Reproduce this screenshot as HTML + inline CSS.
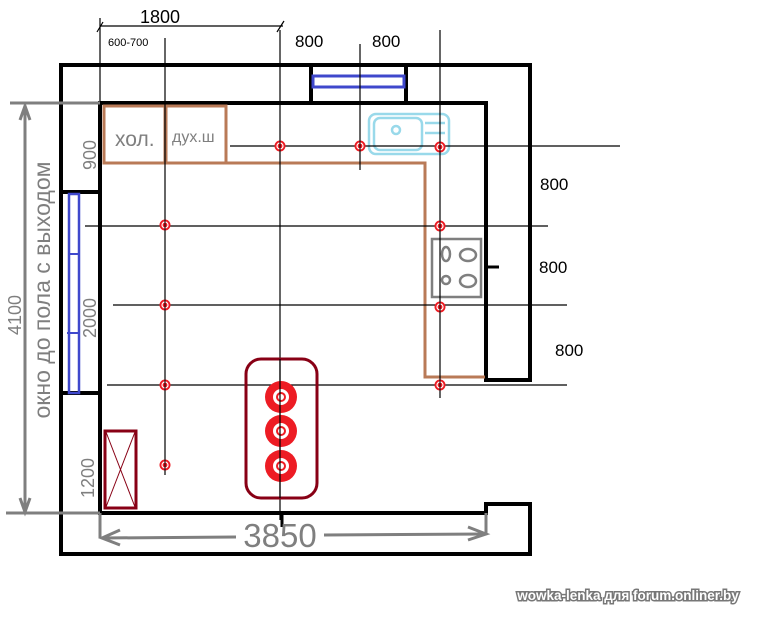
<!DOCTYPE html>
<html><head><meta charset="utf-8"><style>
html,body{margin:0;padding:0;background:#fff;}
svg{display:block;}
</style></head><body>
<svg width="769" height="617" viewBox="0 0 769 617" xmlns="http://www.w3.org/2000/svg" font-family="Liberation Sans, DejaVu Sans, sans-serif">
<rect width="769" height="617" fill="#fff"/>
<g stroke="#000" stroke-width="4" fill="none">
<polyline points="311,65 61,65 61,554 530,554 530,504 486,504 486,513 100,513 100,103 486,103 486,380 530,380 530,65 406,65"/>
<rect x="311" y="65" width="95" height="38"/>
<line x1="61" y1="192" x2="100" y2="192"/>
<line x1="61" y1="393" x2="100" y2="393"/>
</g>
<rect x="313" y="76" width="91" height="11" fill="none" stroke="#3f48cc" stroke-width="3"/>
<rect x="69" y="194" width="10" height="199" fill="none" stroke="#3f48cc" stroke-width="2.5"/>
<line x1="69" y1="254" x2="79" y2="254" stroke="#3f48cc" stroke-width="2"/>
<line x1="67" y1="333" x2="79" y2="333" stroke="#3f48cc" stroke-width="2"/>
<g stroke="#b97a57" stroke-width="3" fill="none">
<rect x="104" y="106" width="61" height="57"/>
<rect x="166" y="106" width="60" height="57"/>
<polyline points="104,163 425,163 425,377 485,377"/>
</g>
<text x="115" y="146" font-size="21" fill="#7f7f7f">хол.</text>
<text x="172" y="142" font-size="16" fill="#7f7f7f">дух.ш</text>
<g stroke="#99d9ea" stroke-width="2.5" fill="none">
<rect x="369" y="114" width="80" height="40" rx="7"/>
<rect x="374" y="118" width="48" height="32" rx="6"/>
<circle cx="396" cy="130" r="4"/>
<line x1="425" y1="123" x2="445" y2="123"/>
<line x1="425" y1="133" x2="445" y2="133"/>
</g>
<g stroke="#7f7f7f" stroke-width="2.5" fill="none">
<rect x="432" y="239" width="49" height="58"/>
<ellipse cx="446" cy="254" rx="4" ry="7"/>
<ellipse cx="468" cy="255" rx="8" ry="6"/>
<circle cx="446" cy="280" r="4"/>
<ellipse cx="468" cy="281" rx="8" ry="6"/>
</g>
<line x1="484" y1="267" x2="499" y2="267" stroke="#000" stroke-width="3"/>
<g stroke="#000" stroke-width="1.2">
<line x1="100" y1="18" x2="100" y2="103"/>
<line x1="165" y1="38" x2="165" y2="475"/>
<line x1="280" y1="30" x2="280" y2="520"/>
<line x1="360" y1="44" x2="360" y2="170"/>
<line x1="440" y1="30" x2="440" y2="398"/>
<line x1="230" y1="146" x2="620" y2="146"/>
<line x1="85" y1="226" x2="548" y2="226"/>
<line x1="113" y1="305" x2="567" y2="305"/>
<line x1="107" y1="385" x2="567" y2="385"/>
<line x1="100" y1="26" x2="283" y2="26"/>
<line x1="97" y1="32" x2="103" y2="22"/>
<line x1="277" y1="32" x2="284" y2="21"/>
</g>
<g fill="#ed1c24" stroke="#ed1c24">
<circle cx="280" cy="146" r="5"/><circle cx="360" cy="146" r="5"/><circle cx="440" cy="147" r="5"/>
<circle cx="165" cy="225" r="5"/><circle cx="440" cy="226" r="5"/>
<circle cx="165" cy="305" r="5"/><circle cx="440" cy="307" r="5"/>
<circle cx="165" cy="385" r="5"/><circle cx="440" cy="385" r="5"/>
<circle cx="165" cy="465" r="5"/>
</g>
<g fill="none" stroke="#fff" stroke-width="1.2">
<circle cx="280" cy="146" r="3"/><circle cx="360" cy="146" r="3"/><circle cx="440" cy="147" r="3"/>
<circle cx="165" cy="225" r="3"/><circle cx="440" cy="226" r="3"/>
<circle cx="165" cy="305" r="3"/><circle cx="440" cy="307" r="3"/>
<circle cx="165" cy="385" r="3"/><circle cx="440" cy="385" r="3"/>
<circle cx="165" cy="465" r="3"/>
</g>
<g stroke="#000" stroke-width="1">
<line x1="280" y1="140" x2="280" y2="152"/><line x1="360" y1="140" x2="360" y2="152"/><line x1="440" y1="141" x2="440" y2="153"/>
<line x1="165" y1="219" x2="165" y2="231"/><line x1="440" y1="220" x2="440" y2="232"/>
<line x1="165" y1="299" x2="165" y2="311"/><line x1="440" y1="301" x2="440" y2="313"/>
<line x1="165" y1="379" x2="165" y2="391"/><line x1="440" y1="379" x2="440" y2="391"/>
<line x1="165" y1="459" x2="165" y2="471"/>
</g>
<rect x="246" y="359" width="71" height="139" rx="15" fill="none" stroke="#880015" stroke-width="3"/>
<g>
<circle cx="281" cy="397" r="16" fill="#ed1c24"/><circle cx="281" cy="397" r="8" fill="#fff"/><circle cx="281" cy="397" r="5" fill="#ed1c24"/><circle cx="281" cy="397" r="3" fill="#fff"/>
<circle cx="281" cy="431" r="16" fill="#ed1c24"/><circle cx="281" cy="431" r="8" fill="#fff"/><circle cx="281" cy="431" r="5" fill="#ed1c24"/><circle cx="281" cy="431" r="3" fill="#fff"/>
<circle cx="281" cy="466" r="16" fill="#ed1c24"/><circle cx="281" cy="466" r="8" fill="#fff"/><circle cx="281" cy="466" r="5" fill="#ed1c24"/><circle cx="281" cy="466" r="3" fill="#fff"/>
</g>
<line x1="280" y1="359" x2="280" y2="498" stroke="#000" stroke-width="1.2"/>
<line x1="282" y1="513" x2="282" y2="527" stroke="#000" stroke-width="3"/>
<rect x="105" y="431" width="31" height="77" fill="none" stroke="#880015" stroke-width="3"/>
<line x1="106" y1="432" x2="135" y2="507" stroke="#880015" stroke-width="1"/>
<line x1="135" y1="432" x2="106" y2="507" stroke="#880015" stroke-width="1"/>
<g stroke="#7f7f7f" stroke-width="3" fill="none">
<line x1="10" y1="103" x2="100" y2="103"/>
<line x1="6" y1="513" x2="100" y2="513"/>
<line x1="25" y1="106" x2="25" y2="510"/>
<polyline points="20,120 25,106 30,120"/>
<polyline points="20,498 25,512 30,498"/>
<line x1="100" y1="513" x2="100" y2="538"/>
<line x1="102" y1="538" x2="236" y2="537"/>
<polyline points="120,530 102,538 120,545"/>
<line x1="324" y1="535" x2="486" y2="534"/>
<polyline points="468,527 486,534 468,540"/>
<line x1="486" y1="513" x2="486" y2="535"/>
</g>
<g fill="#000">
<text x="140" y="23" font-size="18">1800</text>
<text x="108" y="46" font-size="11">600-700</text>
<text x="295" y="47" font-size="17">800</text>
<text x="372" y="47" font-size="17">800</text>
<text x="540" y="190" font-size="17">800</text>
<text x="539" y="273" font-size="17">800</text>
<text x="555" y="356" font-size="17">800</text>
</g>
<g fill="#7f7f7f">
<text transform="translate(21,315) rotate(-90)" font-size="18" text-anchor="middle">4100</text>
<text transform="translate(50,290) rotate(-90)" font-size="23" text-anchor="middle">окно до пола с выходом</text>
<text transform="translate(96,155) rotate(-90)" font-size="18" text-anchor="middle">900</text>
<text transform="translate(96,318) rotate(-90)" font-size="18" text-anchor="middle">2000</text>
<text transform="translate(94,478) rotate(-90)" font-size="18" text-anchor="middle">1200</text>
<text x="280" y="547" font-size="33" text-anchor="middle">3850</text>
</g>
<text x="628" y="600" font-size="13.5" font-weight="bold" fill="#fff" text-anchor="middle" stroke="#777" stroke-width="3" paint-order="stroke">wowka-lenka для forum.onliner.by</text>
</svg>
</body></html>
